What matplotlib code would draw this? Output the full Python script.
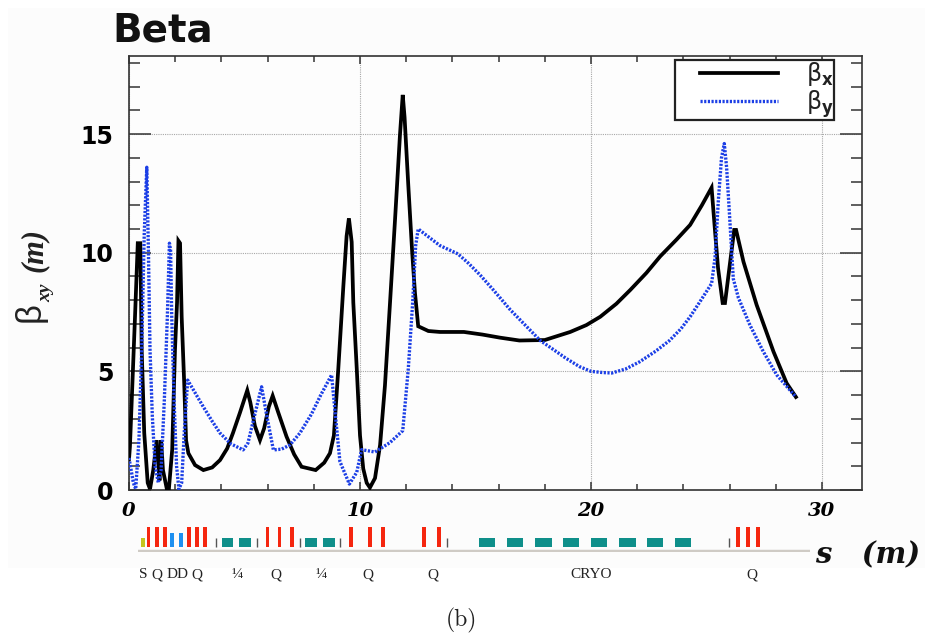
import matplotlib
matplotlib.use("Agg")
import matplotlib.pyplot as plt
from matplotlib.patches import Rectangle
from matplotlib.ticker import MultipleLocator
from matplotlib.legend_handler import HandlerLine2D

# ---------- data ----------
s_x = [0.0, 0.04, 0.26, 0.38, 0.49, 0.55, 0.66, 0.81, 0.91, 1.05, 1.2, 1.27, 1.32, 1.39, 1.47, 1.63, 1.73, 1.87, 1.99, 2.08, 2.14,
       2.21, 2.28, 2.39, 2.47, 2.57, 2.86, 3.22, 3.6, 3.94, 4.25, 4.5, 4.8, 5.12, 5.25, 5.45, 5.67, 5.85, 6.05, 6.22, 6.45, 6.82,
       7.15, 7.47, 8.08, 8.45, 8.7, 8.87, 9.06, 9.28, 9.42, 9.52, 9.64, 9.71, 9.86, 10.0, 10.14, 10.29, 10.43, 10.65, 10.87, 11.08,
       11.3, 11.52, 11.73, 11.85, 11.93, 12.09, 12.26, 12.38, 12.52, 12.96, 13.46, 14.5, 15.3, 16.06, 16.9, 18.0, 19.1, 19.8, 20.4,
       21.1, 21.7, 22.4, 23.0, 23.7, 24.29, 24.8, 25.22, 25.37, 25.5, 25.7, 25.8, 25.99, 26.2, 26.28, 26.6, 27.17, 27.9, 28.47, 28.87]
beta_x = [1.3, 1.82, 7.3, 10.4, 10.4, 5.9, 2.4, 0.3, 0.04, 0.84, 2.1, 1.1, 0.4, 2.1, 0.84, 0.08, 0.08, 1.7, 5.9, 7.9, 10.5,
          10.4, 7.3, 4.5, 2.1, 1.55, 1.05, 0.84, 0.95, 1.26, 1.75, 2.4, 3.25, 4.2, 3.7, 2.7, 2.1, 2.6, 3.5, 3.97, 3.3, 2.25,
          1.5, 0.98, 0.84, 1.15, 1.55, 2.3, 5.1, 8.6, 10.7, 11.45, 10.45, 7.9, 5.1, 2.3, 0.9, 0.3, 0.1, 0.5, 1.9, 4.4,
          7.9, 11.45, 14.96, 16.65, 15.7, 12.85, 10.0, 8.3, 6.9, 6.7, 6.66, 6.66, 6.55, 6.42, 6.3, 6.32, 6.66, 6.95, 7.3,
          7.85, 8.43, 9.15, 9.85, 10.55, 11.17, 12.0, 12.74, 10.9, 9.35, 7.88, 7.88, 9.35, 10.96, 10.96, 9.62, 7.8, 5.83, 4.5, 3.92]
s_y = [0.0, 0.19, 0.29, 0.43, 0.55, 0.66, 0.77, 0.84, 0.91, 1.01, 1.13, 1.27, 1.39, 1.53, 1.66, 1.75, 1.8, 1.85, 1.95, 2.06, 2.16,
       2.28, 2.39, 2.54, 3.22, 3.6, 3.94, 4.4, 4.94, 5.15, 5.4, 5.74, 5.95, 6.25, 6.6, 6.97, 7.4, 7.9, 8.3, 8.77, 8.92, 9.13, 9.54,
       9.86, 10.07, 10.65, 11.3, 11.85, 12.09, 12.28, 12.41, 12.52, 13.46, 14.24, 14.7, 15.2, 15.8, 16.5, 17.2, 17.8, 18.4, 18.9,
       19.5, 20.0, 20.5, 20.9, 21.5, 22.1, 22.8, 23.4, 23.9, 24.29, 24.72, 25.22, 25.37, 25.51, 25.65, 25.77, 25.87, 25.99, 26.09,
       26.16, 26.38, 26.88, 27.46, 28.04, 28.87]
beta_y = [1.35, 0.3, 0.04, 2.1, 5.9, 10.8, 13.6, 10.1, 5.9, 3.1, 1.0, 0.3, 0.84, 3.8, 7.3, 10.4, 10.1, 7.3, 3.8, 1.0, 0.04,
          0.3, 2.4, 4.63, 3.5, 2.9, 2.4, 1.95, 1.69, 1.98, 3.0, 4.35, 3.2, 1.69, 1.72, 1.9, 2.4, 3.2, 4.0, 4.85, 3.3, 1.2, 0.25,
          0.75, 1.7, 1.6, 2.0, 2.5, 5.1, 7.9, 10.3, 11.0, 10.3, 9.95, 9.55, 9.06, 8.4, 7.6, 6.9, 6.3, 5.9, 5.56,
          5.2, 5.0, 4.95, 4.93, 5.1, 5.4, 5.85, 6.3, 6.8, 7.3, 7.94, 8.7, 9.8, 12.15, 14.0, 14.6, 13.6, 11.7, 10.04,
          8.9, 8.1, 6.95, 5.83, 4.85, 3.92]

quad_s = [0.84, 1.2, 1.56, 2.6, 2.94, 3.29, 5.99, 6.52, 7.07, 9.62, 10.42, 11.0, 12.76, 13.41, 26.35, 26.81, 27.24]
dipole_s = [1.87, 2.24]
sext_s = [0.59]
cryo_start = [4.01, 4.77, 7.63, 8.4, 15.16, 16.36, 17.56, 18.79, 19.99, 21.21, 22.41, 23.62]
cryo_end = [4.52, 5.28, 8.15, 8.9, 15.86, 17.06, 18.3, 19.49, 20.69, 21.93, 23.13, 24.35]
marker_s = [3.77, 5.55, 7.4, 9.15, 13.78, 25.96]
lattice_labels = ["S", "Q", "DD", "Q", "¼", "Q", "¼", "Q", "Q", "CRYO", "Q"]
lattice_label_s = [0.62, 1.2, 2.1, 2.95, 4.7, 6.35, 8.3, 10.35, 13.15, 20.0, 26.97]
x_ticks = [0, 10, 20, 30]
y_ticks = [0, 5, 10, 15]

# ---------- layout helpers (pixels) ----------
W, H = 925, 637
fig = plt.figure(figsize=(W / 100, H / 100), dpi=100, facecolor="white")
def box(l, t, r, b):
    return [l / W, 1 - b / H, (r - l) / W, (b - t) / H]

fig.add_artist(Rectangle((8 / W, 1 - 568 / H), (W - 8) / W, 560 / H, transform=fig.transFigure,
                         fc="#fcfcfc", ec="none", zorder=-5))

# ---------- main axes ----------
plt.rcParams["mathtext.fontset"] = "custom"
plt.rcParams["mathtext.rm"] = "DejaVu Sans"
plt.rcParams["mathtext.bf"] = "DejaVu Sans:bold"
SX, SY = 23.1, 23.73
ax = fig.add_axes(box(129, 56, 862, 490), facecolor="#fdfdfd")
ax.set_xlim(0, 733 / SX)
ax.set_ylim(0, 434 / SY)
line_x, = ax.plot(s_x, beta_x, color="black", lw=2.7, solid_joinstyle="miter", label=r"$\mathrm{\beta}_{\mathbf{x}}\quad$", zorder=3)
line_y, = ax.plot(s_y, beta_y, color="#1c3fe6", lw=2.4, linestyle=(0, (0.65, 0.45)), label=r"$\mathrm{\beta}_{\mathbf{y}}\quad$", zorder=4)

ax.set_xticks(x_ticks)
ax.set_yticks(y_ticks)
ax.xaxis.set_minor_locator(MultipleLocator(2))
ax.yaxis.set_minor_locator(MultipleLocator(1))
ax.grid(True, which="major", color="#a8a8a8", lw=0.8, linestyle=(0, (1, 1)))
ax.tick_params(which="major", axis="y", direction="in", left=True, right=True, length=16, width=1.1, color="#333333", pad=11)
ax.tick_params(which="minor", axis="y", direction="in", left=True, right=True, length=8, width=1.1, color="#333333")
ax.tick_params(which="major", axis="x", direction="in", bottom=True, top=True, length=6, width=1.1, color="#333333", pad=9)
ax.tick_params(which="minor", axis="x", direction="in", bottom=True, top=True, length=4.5, width=1.1, color="#333333")
for sp in ax.spines.values():
    sp.set_color("#333333")
    sp.set_linewidth(1.2)
for t in ax.get_yticklabels():
    t.set_fontfamily("DejaVu Sans"); t.set_fontweight("bold"); t.set_fontsize(17)
for t in ax.get_xticklabels():
    t.set_fontfamily("DejaVu Serif"); t.set_fontweight("bold"); t.set_fontstyle("italic"); t.set_fontsize(14)

pad_handler = HandlerLine2D(xpad=1.05)
leg = ax.legend(handler_map={line_x: pad_handler, line_y: pad_handler},
                loc="upper left", bbox_to_anchor=(546 / 733, 1 - 4 / 434), borderaxespad=0, frameon=True, fancybox=False,
                framealpha=1, edgecolor="#222222", facecolor="white", fontsize=17, handlelength=4.35,
                handletextpad=1.2, labelspacing=0.0, borderpad=0.0, labelcolor="#222222")
leg.get_frame().set_linewidth(1.6)
leg.set_zorder(6)

# ---------- lattice strip ----------
lat = fig.add_axes(box(138, 521, 810, 552), facecolor="white")
lat.set_xlim(9 / SX, 681 / SX)
lat.set_ylim(0, 31)
lat.axis("off")
lat.patch.set_visible(True)
lat.axhline(1.0, color="#cfcbc5", lw=2.5)
lat.bar(cryo_start, 9.5, width=[e - b for b, e in zip(cryo_start, cryo_end)], bottom=5, align="edge", color="#0f8f8a")
lat.bar(quad_s, 20.5, width=0.16, bottom=5, color="#f5260f")
lat.bar(dipole_s, 14, width=0.16, bottom=5, color="#1e90f0")
lat.bar(sext_s, 9, width=0.17, bottom=5, color="#c4c41e")
lat.vlines(marker_s, 5, 14, color="#555555", lw=1)

# ---------- text ----------
def px_text(x, y, s, **kw):
    fig.text(x / W, 1 - y / H, s, **kw)

px_text(163, 30, "Beta", ha="center", va="center", family="DejaVu Sans", fontweight="bold", fontsize=28, color="#111111")
px_text(868, 555, "s   (m)", ha="center", va="center", family="DejaVu Serif", fontweight="bold", fontstyle="italic",
        fontsize=21, color="#111111")
px_text(30, 312, "β", ha="center", va="center", rotation=90, family="Liberation Sans", fontsize=25, color="#222222")
px_text(46, 293, "xy", ha="center", va="center", rotation=90, family="Liberation Serif", fontweight="bold", fontstyle="italic",
        fontsize=14, color="#222222")
px_text(34, 250, "(m)", ha="center", va="center", rotation=90, family="Liberation Serif", fontweight="bold", fontstyle="italic",
        fontsize=22, color="#222222")
for lab, xs in zip(lattice_labels, lattice_label_s):
    px_text(129 + xs * SX, 575, lab, ha="center", va="center", family="Liberation Serif", fontsize=11, color="#222222")
px_text(461, 620, "(b)", ha="center", va="center", family="cmr10", fontsize=17, color="#222222")

fig.savefig("out.png", dpi=100, facecolor="white")
